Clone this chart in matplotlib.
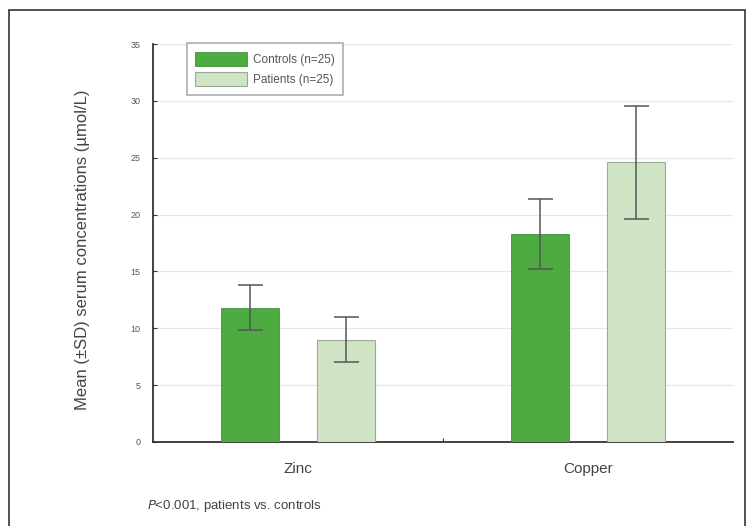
import matplotlib
matplotlib.use("Agg")
import matplotlib.pyplot as plt
from matplotlib.patches import Rectangle
import numpy as np

categories = ["Zinc", "Copper"]
controls_mean = [11.8, 18.3]
controls_sd = [2.0, 3.1]
patients_mean = [9.0, 24.6]
patients_sd = [1.95, 5.0]
yticks = [0, 5, 10, 15, 20, 25, 30, 35]

plt.rcParams['font.family'] = ['Liberation Sans', 'DejaVu Sans']

fig = plt.figure(figsize=(7.5, 5.26), dpi=100)
ax = fig.add_axes([0.204, 0.160, 0.773, 0.756])

x = np.arange(len(categories))
w = 0.2
off = 0.165
c_ctrl = '#4dab42'
c_pat = '#cfe3c5'
ekw = dict(ecolor='#555555', elinewidth=1.1, capthick=1.1)
ax.bar(x - off, controls_mean, w, color=c_ctrl, edgecolor='#3f9436', linewidth=0.6,
       yerr=controls_sd, capsize=9, error_kw=ekw, label='Controls (n=25)', zorder=3)
ax.bar(x + off, patients_mean, w, color=c_pat, edgecolor='#9aaa94', linewidth=0.8,
       yerr=patients_sd, capsize=9, error_kw=ekw, label='Patients (n=25)', zorder=3)

ax.set_xlim(-0.5, 1.5)
ax.set_ylim(0, 35)
ax.set_yticks(yticks)
ax.set_yticklabels([str(t) for t in yticks], fontsize=6.5, color='#555555')
ax.set_xticks([0.5], minor=False)
ax.set_xticklabels([''])
ax.tick_params(axis='x', length=3, direction='in', color='#333333')
ax.tick_params(axis='y', length=3, direction='in', color='#333333', pad=9)
for xi, cat in zip(x, categories):
    ax.text(xi, -0.05, cat, transform=ax.get_xaxis_transform(), ha='center', va='top',
            fontsize=11, color='#444444')

ax.yaxis.grid(True, color='#e6e6e6', linewidth=0.9, zorder=0)
ax.set_axisbelow(True)
for s in ['top', 'right']:
    ax.spines[s].set_visible(False)
ax.spines['left'].set_color('#333333')
ax.spines['bottom'].set_color('#333333')
ax.spines['left'].set_linewidth(1.3)
ax.spines['bottom'].set_linewidth(1.3)

ax.set_ylabel('Mean (±SD) serum concentrations (µmol/L)', fontsize=12, color='#444444')
ax.yaxis.set_label_coords((90 - 153) / 580, (442 - 250) / 398)

leg = ax.legend(loc='upper left', bbox_to_anchor=(0.058, 1.002), fontsize=8.5, frameon=True,
                fancybox=False, edgecolor='#999999', handlelength=4.4, handleheight=1.5,
                handletextpad=0.5, labelspacing=0.5, borderpad=0.7, borderaxespad=0.0)
leg.get_frame().set_linewidth(1.2)
for t in leg.get_texts():
    t.set_color('#555555')

fig.text(147/750, 1 - 506/526, r'$P$<0.001, patients vs. controls', fontsize=9.5,
         color='#444444', ha='left', va='center')

fig.patches.append(Rectangle((9/750, -0.05), (745 - 9)/750, 1.05 - 10/526,
                             transform=fig.transFigure, fill=False,
                             edgecolor='#333333', linewidth=1.2))

fig.savefig('out.png', dpi=100)
